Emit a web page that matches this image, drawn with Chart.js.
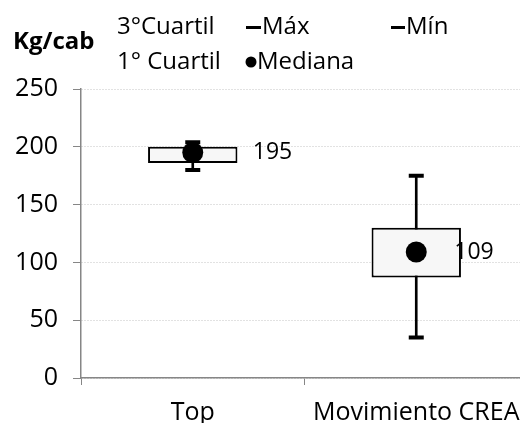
<!DOCTYPE html>
<html>
<head>
<meta charset="utf-8">
<script src="https://cdn.jsdelivr.net/npm/chart.js@4.4.1/dist/chart.umd.min.js"></script>
<style>
  html, body { margin: 0; padding: 0; background: #ffffff; }
  canvas { display: block; }
</style>
</head>
<body>
<canvas id="c" width="520" height="423"></canvas>
<script>
// ---- data ----
const categories = ['Top', 'Movimiento CREA'];
const q1Values = [186, 87];
const q3Values = [200, 130];
const maxValues = [204, 175];
const minValues = [180, 35];
const medianValues = [195, 109];
const yTicks = [0, 50, 100, 150, 200, 250];
const axisTitle = 'Kg/cab';
const legendNames = ['3°Cuartil', 'Máx', 'Mín', '1° Cuartil', 'Mediana'];

// ---- styles ----
const FONT = "'Open Sans', 'Noto Sans', sans-serif";
const AXIS_GRAY = '#868686';
const GRID_GRAY = '#c4c4c4';
const labelDx = [60, 38];
const PLOT_OVERHANG = 8; // plot area runs slightly past the right edge

const overlayPlugin = {
  id: 'overlay',
  afterLayout(chart) {
    const s = chart.scales.x;
    s.right += PLOT_OVERHANG;
    s.width += PLOT_OVERHANG;
    chart.chartArea.right += PLOT_OVERHANG;
    chart.chartArea.width += PLOT_OVERHANG;
    s.configure();
  },
  afterDatasetsDraw(chart) {
    const ctx = chart.ctx;
    ctx.save();
    ctx.fillStyle = '#000';
    ctx.textBaseline = 'middle';
    ctx.textAlign = 'left';
    ctx.font = '23px ' + FONT;
    const meta = chart.getDatasetMeta(0);
    meta.data.forEach((pt, i) => {
      ctx.fillText(String(medianValues[i]), pt.x + labelDx[i], pt.y);
    });
    ctx.restore();
  },
  afterDraw(chart) {
    const ctx = chart.ctx;
    ctx.save();
    ctx.fillStyle = '#000';
    ctx.textBaseline = 'middle';
    ctx.textAlign = 'left';
    // title
    ctx.font = 'bold 24px ' + FONT;
    ctx.fillText(axisTitle, 13, 42);
    // legend
    ctx.font = '24px ' + FONT;
    // row 1
    ctx.fillText(legendNames[0], 117, 27);
    ctx.fillRect(246, 26, 15, 3);
    ctx.fillText(legendNames[1], 262, 27);
    ctx.fillRect(391, 26, 14, 3);
    ctx.fillText(legendNames[2], 406, 27);
    // row 2
    ctx.fillText(legendNames[3], 117, 62);
    ctx.beginPath();
    ctx.arc(251, 62, 5.5, 0, Math.PI * 2);
    ctx.fill();
    ctx.fillText(legendNames[4], 257, 62);
    ctx.restore();
  }
};

new Chart(document.getElementById('c'), {
  type: 'bar',
  data: {
    labels: categories,
    datasets: [
      {
        type: 'line',
        label: legendNames[4],
        data: medianValues,
        showLine: false,
        pointStyle: 'circle',
        pointRadius: 10.5,
        pointHoverRadius: 10.5,
        pointBackgroundColor: '#000',
        pointBorderWidth: 0,
        order: 0
      },
      {
        type: 'line',
        label: legendNames[1],
        data: maxValues,
        showLine: false,
        pointStyle: 'line',
        pointRadius: 7.5,
        pointHoverRadius: 7.5,
        pointBorderColor: '#000',
        pointBorderWidth: 4,
        order: 1
      },
      {
        type: 'line',
        label: legendNames[2],
        data: minValues,
        showLine: false,
        pointStyle: 'line',
        pointRadius: 7.5,
        pointHoverRadius: 7.5,
        pointBorderColor: '#000',
        pointBorderWidth: 4,
        order: 1
      },
      {
        label: 'Caja',
        data: categories.map((c, i) => [q1Values[i], q3Values[i]]),
        backgroundColor: '#f7f7f7',
        borderColor: '#000',
        borderWidth: 2,
        borderSkipped: false,
        grouped: false,
        barPercentage: 0.4,
        categoryPercentage: 1,
        order: 2
      },
      {
        label: 'Bigote',
        data: categories.map((c, i) => [minValues[i], maxValues[i]]),
        backgroundColor: '#000',
        borderWidth: 0,
        grouped: false,
        barThickness: 2,
        order: 3
      }
    ]
  },
  options: {
    responsive: false,
    animation: false,
    devicePixelRatio: 1,
    layout: { autoPadding: false, padding: { top: 89, right: 0, bottom: 0, left: 0 } },
    plugins: {
      legend: { display: false },
      title: { display: false },
      tooltip: { enabled: false }
    },
    scales: {
      x: {
        type: 'category',
        offset: true,
        afterFit(scale) { scale.height = 45; scale.paddingLeft = 0; scale.paddingRight = 0; },
        grid: {
          display: true,
          drawOnChartArea: false,
          drawTicks: true,
          tickLength: 7,
          color: AXIS_GRAY,
          tickColor: AXIS_GRAY,
          offset: true
        },
        border: { display: true, color: AXIS_GRAY, width: 1.5 },
        ticks: {
          color: '#000',
          font: { size: 25, family: FONT },
          padding: 13,
          maxRotation: 0,
          autoSkip: false
        }
      },
      y: {
        type: 'linear',
        min: 0,
        max: 250,
        afterFit(scale) { scale.width = 81; },
        afterBuildTicks(scale) { scale.ticks = yTicks.map(v => ({ value: v })); },
        grid: {
          color: GRID_GRAY,
          lineWidth: 1,
          tickLength: 8,
          tickColor: AXIS_GRAY,
          tickBorderDash: []
        },
        border: { display: true, color: AXIS_GRAY, width: 1.5, dash: [1, 2] },
        ticks: {
          color: '#000',
          font: { size: 25, family: FONT },
          padding: 15
        }
      }
    }
  },
  plugins: [overlayPlugin]
});
</script>
</body>
</html>
